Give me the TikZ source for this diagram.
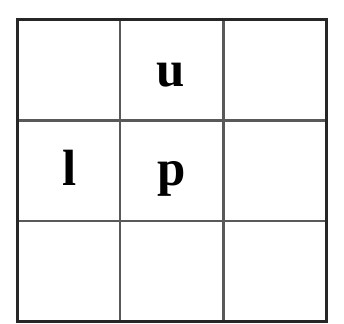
\documentclass[tikz,border=0pt]{standalone}
\usepackage{fontspec}
\setmainfont{Liberation Serif}
\begin{document}
\begin{tikzpicture}[x=2.067cm, y=2.013cm, every node/.style={font=\fontsize{29}{34}\selectfont\bfseries, inner sep=0pt, anchor=base}]
    \useasboundingbox (-0.165,-0.02) rectangle (3.166,3.198);
    \fill[white] (-0.165,-0.02) rectangle (3.166,3.198);

    % inner lines
    \draw[line width=1.3pt, black!65] (1,0) -- (1,3);
    \draw[line width=1.3pt, black!65] (2,0) -- (2,3);
    \draw[line width=1.3pt, black!65] (0,1) -- (3,1);
    \draw[line width=1.3pt, black!65] (0,2) -- (3,2);

    % outer frame
    \draw[line width=1.7pt, black!85] (0,0) rectangle (3,3);

    \node (u) at (1.49,2.334) {u};
    \node (p) at (1.50,1.35) {p};
    \node (l) at (0.51,1.35) {l};
\end{tikzpicture}
\end{document}
